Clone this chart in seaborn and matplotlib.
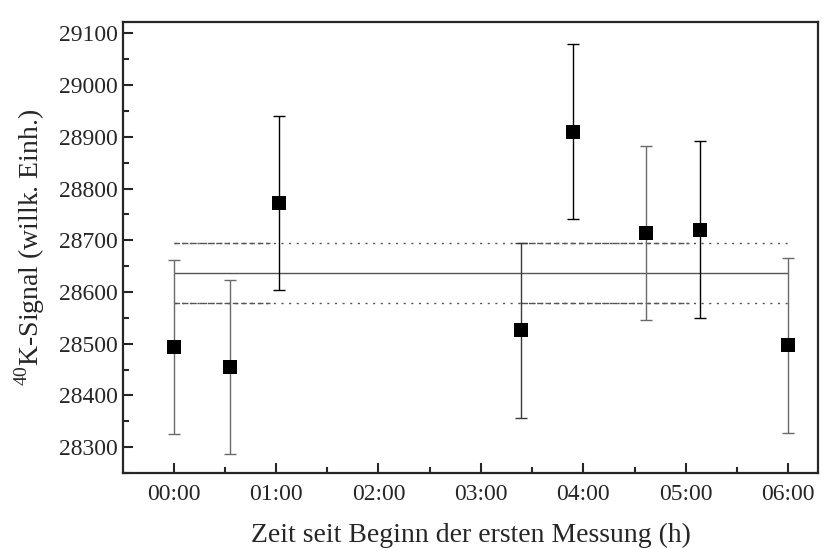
"""40K signal over time since start of first measurement."""

import matplotlib
matplotlib.use("Agg")
import matplotlib.pyplot as plt
from matplotlib.ticker import FuncFormatter, MultipleLocator
import numpy as np
import pandas as pd
import seaborn as sns

# time since start of first measurement (h)
hours = [0.0, 0.552, 1.033, 3.387, 3.898, 4.611, 5.135, 6.0]
signal = [28493, 28455, 28772, 28526, 28910, 28714, 28720, 28497]
sigma = [168, 168, 169, 169, 169, 168, 171, 169]
bar_colors = ["#6a6a6a", "#6a6a6a", "#000000", "#3a3a3a", "#000000", "#6a6a6a", "#000000", "#6a6a6a"]

mean_level = 28637
band_upper = 28695
band_lower = 28579
line_span = (0.0, 6.0)
dash_segments = [(0.0, 0.94), (3.38, 5.03)]

sns.set_style("ticks")
plt.rcParams["font.family"] = ["Liberation Serif", "DejaVu Serif"]
plt.rcParams["mathtext.fontset"] = "custom"
plt.rcParams["mathtext.rm"] = "Liberation Serif"

df = pd.DataFrame({"t": hours, "signal": signal, "err": sigma})

fig = plt.figure(figsize=(8.29, 5.49), dpi=100)
ax = fig.add_axes([0.1484, 0.1384, 0.8383, 0.8215])

# reference levels
ax.hlines(mean_level, *line_span, color="#555555", lw=1.0, zorder=1)
for lvl in (band_upper, band_lower):
    ax.hlines(lvl, *line_span, color="#555555", lw=1.0, linestyles=(0, (1.5, 4)), zorder=1)
    for a, b in dash_segments:
        ax.hlines(lvl, a, b, color="#555555", lw=1.0, linestyles=(0, (4, 2)), zorder=1)

for t, s, e, c in zip(hours, signal, sigma, bar_colors):
    ax.errorbar(t, s, yerr=e, fmt="none", ecolor=c, elinewidth=1.0,
                capsize=4, capthick=1.0, zorder=2)

sns.scatterplot(data=df, x="t", y="signal", marker="s", s=90, color="black",
                edgecolor="black", linewidth=0, ax=ax, zorder=3)

ax.set_xlim(-0.493, 6.29)
ax.set_ylim(28250, 29122)
ax.xaxis.set_major_locator(MultipleLocator(1))
ax.xaxis.set_minor_locator(MultipleLocator(0.5))
ax.yaxis.set_major_locator(MultipleLocator(100))
ax.yaxis.set_minor_locator(MultipleLocator(50))
ax.xaxis.set_major_formatter(FuncFormatter(lambda v, p: f"{int(round(v)):02d}:00"))
ax.tick_params(which="both", direction="in", top=False, right=False,
               labelsize=17, width=1.5)
ax.tick_params(axis="x", pad=8)
ax.tick_params(axis="y", pad=4)
ax.tick_params(which="major", length=7)
ax.tick_params(which="minor", length=4)
for sp in ax.spines.values():
    sp.set_visible(True)
    sp.set_linewidth(1.6)

ax.set_xlabel("Zeit seit Beginn der ersten Messung (h)", fontsize=20, labelpad=13)
ax.set_ylabel(r"$^{40}$K-Signal (willk. Einh.)", fontsize=20, labelpad=8)

fig.savefig("out.png", dpi=100)
plt.close(fig)
